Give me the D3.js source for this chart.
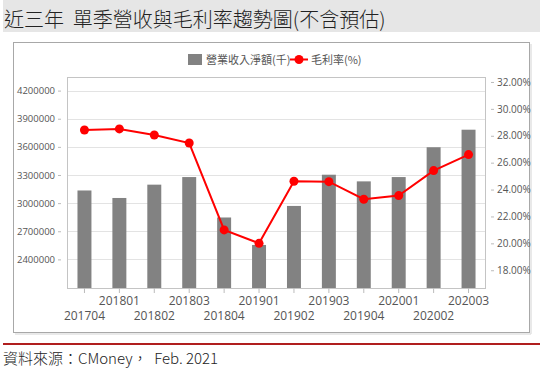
<!DOCTYPE html>
<html><head><meta charset="utf-8">
<script src="https://cdn.jsdelivr.net/npm/d3@7"></script>
<style>body{margin:0;background:#fff}svg{display:block}</style>
</head><body>
<script>
const categories = ["201704","201801","201802","201803","201804","201901","201902","201903","201904","202001","202002","202003"];
const revenue = [3135000,3055000,3197000,3278000,2847000,2554000,2970000,3303000,3232000,3278000,3596000,3783000];
const margin = [28.43,28.51,28.06,27.46,21.0,20.0,24.62,24.59,23.28,23.55,25.41,26.6];
const leftTicks = [2400000,2700000,3000000,3300000,3600000,3900000,4200000];
const rightTicks = [18,20,22,24,26,28,30,32];
const titleText = "近三年  單季營收與毛利率趨勢圖(不含預估)";
const sourceText = "資料來源：CMoney，  Feb. 2021";
const legendBar = "營業收入淨額(千)";
const legendLine = "毛利率(%)";

const W = 540, H = 385;
const svg = d3.select("body").append("svg").attr("width", W).attr("height", H);
const font = "'Noto Sans CJK TC','Noto Sans',sans-serif";
const numFont = "'Open Sans','Noto Sans',sans-serif";

// title bar
svg.append("rect").attr("x",3).attr("y",0).attr("width",W-3).attr("height",32).attr("fill","#e6e6e6");
svg.append("text").attr("x",4).attr("y",27).attr("font-family",font).attr("font-size",20).attr("font-weight",300)
  .attr("fill","#222").style("white-space","pre").text(titleText);

// outer box
svg.append("rect").attr("x",13.5).attr("y",42.5).attr("width",516).attr("height",290)
  .attr("fill","#fff").attr("stroke","#a8a8a8");
svg.append("line").attr("x1",15).attr("x2",531).attr("y1",334).attr("y2",334).attr("stroke","#e2e2e2").attr("stroke-width",1.5);
svg.append("line").attr("x1",531).attr("x2",531).attr("y1",44).attr("y2",334).attr("stroke","#e2e2e2").attr("stroke-width",1.5);

// red rule and source
svg.append("rect").attr("x",3).attr("y",343).attr("width",W-3).attr("height",2).attr("fill","#b01e1e");
svg.append("text").attr("x",3).attr("y",364).attr("font-family",font).attr("font-size",15).attr("font-weight",300)
  .attr("fill","#222").style("white-space","pre").text(sourceText);

const L = 67, R = 486, T = 77, B = 288;
const x = d3.scaleBand().domain(categories).range([L,R]).paddingInner(0.6).paddingOuter(0.3);
const yL = d3.scaleLinear().domain([2095000,4345000]).range([B,T]);
const yR = d3.scaleLinear().domain([16.68,32.37]).range([B,T]);

// grid
svg.append("g").selectAll("line").data(leftTicks).join("line")
  .attr("x1",L).attr("x2",R).attr("y1",d=>Math.round(yL(d))+0.5).attr("y2",d=>Math.round(yL(d))+0.5)
  .attr("stroke","#e3e3e3");
// plot border
svg.append("rect").attr("x",L+0.5).attr("y",T+0.5).attr("width",R-L-1).attr("height",B-T)
  .attr("fill","none").attr("stroke","#c4c4c4");

// bars
svg.append("g").selectAll("rect").data(categories).join("rect")
  .attr("x",d=>x(d)).attr("width",x.bandwidth())
  .attr("y",(d,i)=>yL(revenue[i])).attr("height",(d,i)=>B-yL(revenue[i]))
  .attr("fill","#828282");

// left axis
const gl = svg.append("g").attr("transform",`translate(${L-6},0)`)
  .call(d3.axisLeft(yL).tickValues(leftTicks).tickFormat(d3.format("d")).tickSize(3).tickPadding(3));
gl.select(".domain").remove();
gl.selectAll("line").attr("stroke","#bbb");
gl.selectAll("text").attr("font-family",numFont).attr("font-size",9.5).attr("fill","#555");

// right axis
const gr = svg.append("g").attr("transform",`translate(${R+5},0)`)
  .call(d3.axisRight(yR).tickValues(rightTicks).tickFormat(d=>d3.format(".2f")(d)+"%").tickSize(3).tickPadding(3));
gr.select(".domain").remove();
gr.selectAll("line").attr("stroke","#bbb");
gr.selectAll("text").attr("font-family",numFont).attr("font-size",10).attr("fill","#555");

// x axis
const gx = svg.append("g").attr("transform",`translate(0,${B})`)
  .call(d3.axisBottom(x).tickSize(5).tickPadding(4));
gx.select(".domain").remove();
gx.selectAll("line").attr("stroke","#bbb");
gx.selectAll("text").attr("font-family",numFont).attr("font-size",12).attr("fill","#555")
  .attr("dy",(d,i)=> i%2===0 ? "1.95em" : "0.65em");

// line
const line = d3.line().x((d,i)=>x(categories[i])+x.bandwidth()/2).y(d=>yR(d));
svg.append("path").datum(margin).attr("d",line).attr("fill","none").attr("stroke","#f00").attr("stroke-width",2);
svg.append("g").selectAll("circle").data(margin).join("circle")
  .attr("cx",(d,i)=>x(categories[i])+x.bandwidth()/2).attr("cy",d=>yR(d)).attr("r",4.5).attr("fill","#f00");

// legend
const lg = svg.append("g");
lg.append("rect").attr("x",188).attr("y",54).attr("width",14).attr("height",11).attr("fill","#828282");
lg.append("text").attr("x",206).attr("y",64).attr("font-family",font).attr("font-size",11).attr("fill","#555").text(legendBar);
lg.append("line").attr("x1",290).attr("x2",308).attr("y1",59.5).attr("y2",59.5).attr("stroke","#f00").attr("stroke-width",2);
lg.append("circle").attr("cx",299).attr("cy",59.5).attr("r",4.5).attr("fill","#f00");
lg.append("text").attr("x",311).attr("y",64).attr("font-family",font).attr("font-size",11).attr("fill","#555").text(legendLine);
</script>
</body></html>
